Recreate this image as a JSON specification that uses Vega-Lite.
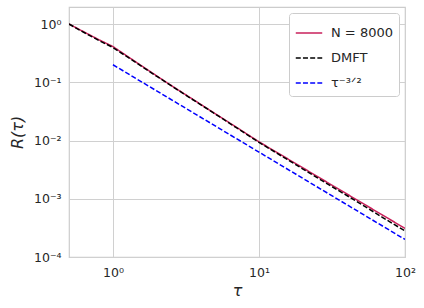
{
  "$schema": "https://vega.github.io/schema/vega-lite/v6.json",
  "autosize": "none",
  "padding": {"left": 69, "top": 7, "right": 19, "bottom": 51},
  "width": 336,
  "height": 250,
  "background": "white",
  "config": {
    "font": "DejaVu Sans",
    "view": {"stroke": "#cccccc", "strokeWidth": 1.2},
    "axis": {
      "domain": false,
      "ticks": false,
      "grid": true,
      "gridColor": "#d0d0d0",
      "gridWidth": 1,
      "labelFont": "DejaVu Sans",
      "labelFontSize": 12.5,
      "labelColor": "#262626",
      "titleFont": "DejaVu Sans",
      "titleFontSize": 16,
      "titleFontWeight": "normal",
      "titleColor": "#262626"
    }
  },
  "data": {
    "values": [
      {"tau": 0.5, "R": 1.0, "series": "N = 8000"},
      {"tau": 0.6, "R": 0.786, "series": "N = 8000"},
      {"tau": 0.7, "R": 0.641, "series": "N = 8000"},
      {"tau": 0.81, "R": 0.53, "series": "N = 8000"},
      {"tau": 1.0, "R": 0.41, "series": "N = 8000"},
      {"tau": 1.5, "R": 0.207, "series": "N = 8000"},
      {"tau": 2.0, "R": 0.128, "series": "N = 8000"},
      {"tau": 2.32, "R": 0.1, "series": "N = 8000"},
      {"tau": 3.0, "R": 0.066, "series": "N = 8000"},
      {"tau": 5.0, "R": 0.029, "series": "N = 8000"},
      {"tau": 7.0, "R": 0.0169, "series": "N = 8000"},
      {"tau": 10.0, "R": 0.0095, "series": "N = 8000"},
      {"tau": 20.0, "R": 0.00339, "series": "N = 8000"},
      {"tau": 30.0, "R": 0.00185, "series": "N = 8000"},
      {"tau": 50.0, "R": 0.000868, "series": "N = 8000"},
      {"tau": 70.0, "R": 0.000526, "series": "N = 8000"},
      {"tau": 100.0, "R": 0.00031, "series": "N = 8000"},
      {"tau": 0.5, "R": 1.0, "series": "DMFT"},
      {"tau": 0.6, "R": 0.77, "series": "DMFT"},
      {"tau": 0.7, "R": 0.625, "series": "DMFT"},
      {"tau": 0.81, "R": 0.515, "series": "DMFT"},
      {"tau": 1.0, "R": 0.395, "series": "DMFT"},
      {"tau": 1.5, "R": 0.203, "series": "DMFT"},
      {"tau": 2.0, "R": 0.126, "series": "DMFT"},
      {"tau": 2.32, "R": 0.099, "series": "DMFT"},
      {"tau": 3.0, "R": 0.065, "series": "DMFT"},
      {"tau": 5.0, "R": 0.0287, "series": "DMFT"},
      {"tau": 7.0, "R": 0.0166, "series": "DMFT"},
      {"tau": 10.0, "R": 0.0093, "series": "DMFT"},
      {"tau": 20.0, "R": 0.00324, "series": "DMFT"},
      {"tau": 30.0, "R": 0.00175, "series": "DMFT"},
      {"tau": 50.0, "R": 0.00081, "series": "DMFT"},
      {"tau": 70.0, "R": 0.00048, "series": "DMFT"},
      {"tau": 100.0, "R": 0.00028, "series": "DMFT"},
      {"tau": 1.0, "R": 0.2, "series": "τ⁻³ᐟ²"},
      {"tau": 10.0, "R": 0.00632, "series": "τ⁻³ᐟ²"},
      {"tau": 100.0, "R": 0.0002, "series": "τ⁻³ᐟ²"}
    ]
  },
  "mark": {"type": "line", "strokeWidth": 1.5, "clip": true},
  "encoding": {
    "x": {
      "field": "tau",
      "type": "quantitative",
      "title": "τ",
      "scale": {"type": "log", "domain": [0.5, 100], "nice": false},
      "axis": {
        "values": [1, 10, 100],
        "labelExpr": "datum.value == 1 ? '10⁰' : datum.value == 10 ? '10¹' : '10²'",
        "labelPadding": 9,
        "titlePadding": 4,
        "labelFlush": false,
        "titleFontStyle": "italic"
      }
    },
    "y": {
      "field": "R",
      "type": "quantitative",
      "title": "R(τ)",
      "scale": {"type": "log", "domain": [0.0001, 1.96], "nice": false},
      "axis": {
        "values": [1, 0.1, 0.01, 0.001, 0.0001],
        "labelExpr": "'10' + ['⁰','⁻¹','⁻²','⁻³','⁻⁴'][round(-log(datum.value)/LN10)]",
        "labelPadding": 8,
        "titlePadding": 8,
        "labelFlush": false,
        "titleFontStyle": "italic"
      }
    },
    "color": {
      "field": "series",
      "type": "nominal",
      "sort": ["N = 8000", "DMFT", "τ⁻³ᐟ²"],
      "scale": {"domain": ["N = 8000", "DMFT", "τ⁻³ᐟ²"], "range": ["#c9205a", "#000000", "#0000ff"]},
      "legend": {
        "title": null,
        "orient": "none",
        "legendX": 220,
        "legendY": 6,
        "fillColor": "white",
        "strokeColor": "#cccccc",
        "cornerRadius": 3,
        "padding": 6,
        "symbolType": "stroke",
        "symbolSize": 700,
        "symbolStrokeWidth": 1.5,
        "labelFontSize": 13,
        "labelColor": "#262626",
        "labelFont": "DejaVu Sans",
        "rowPadding": 4,
        "labelOffset": 8
      }
    },
    "strokeDash": {
      "field": "series",
      "type": "nominal",
      "sort": ["N = 8000", "DMFT", "τ⁻³ᐟ²"],
      "scale": {"domain": ["N = 8000", "DMFT", "τ⁻³ᐟ²"], "range": [[1, 0], [5, 2.2], [5, 2.2]]},
      "legend": null
    }
  }
}
